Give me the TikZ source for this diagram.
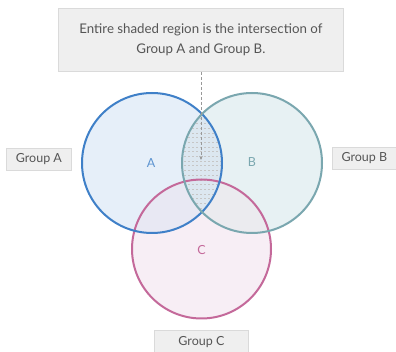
\documentclass[tikz,border=0pt]{standalone}
\usepackage{fontspec}
\setmainfont{Lato}
\usetikzlibrary{arrows.meta}
\definecolor{aline}{HTML}{3F80C8}
\definecolor{afill}{HTML}{E6EFF9}
\definecolor{bline}{HTML}{7AA7AF}
\definecolor{bfill}{HTML}{E7F1F3}
\definecolor{cline}{HTML}{C4699A}
\definecolor{cfill}{HTML}{F7EEF5}
\definecolor{acfill}{HTML}{E8E8F3}
\definecolor{bcfill}{HTML}{EBEBEF}
\definecolor{abfill}{HTML}{DCE7F0}
\definecolor{boxfill}{HTML}{EFEFEF}
\definecolor{boxline}{HTML}{DADADA}
\definecolor{txt}{HTML}{555555}
\tikzset{
  grpbox/.style={fill=boxfill, draw=boxline, line width=0.8pt, text=txt, font=\fontsize{12.5}{14}\selectfont, inner sep=0pt, anchor=north west},
  circlbl/.style={font=\fontsize{12.5}{14}\selectfont},
}
\begin{document}
\begin{tikzpicture}[x=1pt,y=-1pt]
\useasboundingbox (0,0) rectangle (396,352);
\fill[white] (0,0) rectangle (396,352);
% fills
\fill[afill] (152,163) circle (70);
\fill[bfill] (252,163) circle (70);
\fill[cfill] (201.5,249) circle (69.5);
% overlaps
\begin{scope}
  \clip (152,163) circle (70);
  \fill[acfill] (201.5,249) circle (69.5);
\end{scope}
\begin{scope}
  \clip (252,163) circle (70);
  \fill[bcfill] (201.5,249) circle (69.5);
\end{scope}
\begin{scope}
  \clip (152,163) circle (70);
  \fill[abfill] (252,163) circle (70);
  \clip (252,163) circle (70);
  \foreach \y in {114,118.7,...,214} {
    \draw[gray!45, line width=0.5pt, dash pattern=on 2pt off 2pt] (180,\y) -- (225,\y);
  }
\end{scope}
% strokes
\draw[cline, line width=2pt] (201.5,249) circle (69.5);
\draw[aline, line width=2pt] (152,163) circle (70);
\draw[bline, line width=2pt] (252,163) circle (70);
% labels
\node[circlbl, text=aline!85] (la) at (151,163) {A};
\node[circlbl, text=bline] (lb) at (252,162) {B};
\node[circlbl, text=cline] (lc) at (201.5,250) {C};
% callout
\node[fill=boxfill, draw=boxline, line width=0.8pt, minimum width=285pt, minimum height=63pt, anchor=north west, inner sep=0pt, align=center, text=txt, font=\fontsize{13.3}{20.5}\selectfont] (call) at (58,8) {Entire shaded region is the intersection of\\Group A and Group B.};
\coordinate (tip) at (201,160);
\draw[gray!80, line width=0.7pt, dash pattern=on 3pt off 2pt, -{Stealth[length=4pt,width=3.5pt]}] (call.south -| tip) -- (tip);
% group boxes
\node[grpbox, minimum width=65pt, minimum height=22pt] (ga) at (6,148) {Group A};
\node[grpbox, minimum width=64pt, minimum height=22pt] (gb) at (332,147) {Group B};
\node[grpbox, minimum width=94pt, minimum height=24pt] (gc) at (154,330) {Group C};
\end{tikzpicture}
\end{document}
